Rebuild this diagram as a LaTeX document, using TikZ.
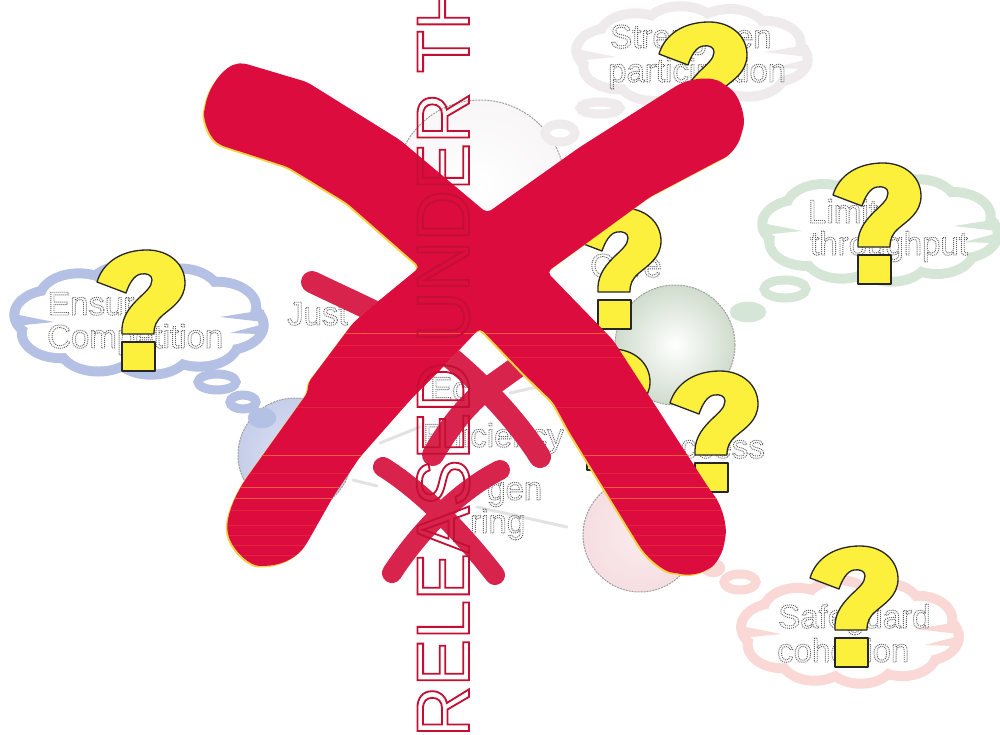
\documentclass[tikz,border=0pt]{standalone}
\usepackage{fontspec}
\setmainfont{Liberation Sans}
\newfontfamily\stampfont[FakeStretch=0.937]{Liberation Sans}
\usetikzlibrary{shadings}
\definecolor{xred}{HTML}{DC0C3E}
\definecolor{xredthin}{HTML}{D8244C}
\definecolor{xfringe}{HTML}{F8D246}
\definecolor{xscan}{HTML}{F25A3C}
\definecolor{stampred}{HTML}{CE1238}
\definecolor{qyellow}{HTML}{FDF03C}
\definecolor{cblue}{HTML}{B4C0E4}
\definecolor{cgrey}{HTML}{EFEBED}
\definecolor{cgreen}{HTML}{D6E6D6}
\definecolor{cpink}{HTML}{F9D8D6}
\definecolor{sblue}{HTML}{C6CEEA}
\definecolor{sgreen}{HTML}{CFDCCC}
\definecolor{spink}{HTML}{F6DEE2}
\definecolor{sgrey}{HTML}{F8F6F6}
\newcommand\ghosttext[1]{\special{pdf:code q 1 Tr 0.9 w [1 1] 0 d 0.36 0.36 0.36 RG}#1\special{pdf:code Q}}
\newcommand\stamptext[1]{\special{pdf:code q 1 Tr 1.8 w 0.76 0.06 0.2 RG}#1\special{pdf:code Q}}
% cloud outline from a ring of lobes: colour lobes first, white lobes on top, then folds
\newcommand\cloudlobes[5]{%
  \foreach \a in {0,36,...,324}{%
    \pgfmathsetmacro\lx{#1+(#3-0.30*#3-5)*cos(\a+10)}%
    \pgfmathsetmacro\ly{#2+(#4-0.42*#4-5)*sin(\a+10)}%
    \fill[#5] (\lx,\ly) ellipse [x radius=0.30*#3+5, y radius=0.42*#4+5];}%
  \foreach \a in {0,36,...,324}{%
    \pgfmathsetmacro\lx{#1+(#3-0.30*#3-5)*cos(\a+10)}%
    \pgfmathsetmacro\ly{#2+(#4-0.42*#4-5)*sin(\a+10)}%
    \fill[white] (\lx,\ly) ellipse [x radius=0.30*#3-5, y radius=0.42*#4-5];}%
  \fill[white] (#1,#2) ellipse [x radius=#3-22, y radius=#4-18];
  \fill[#5] (#1+#3-6,#2-10) -- (#1+#3-50,#2-3) -- (#1+#3-6,#2+2) -- cycle;
  \fill[#5] (#1+#3-6,#2+4) -- (#1+#3-40,#2+13) -- (#1+#3-12,#2+14) -- cycle;
  \fill[#5] (#1-#3+6,#2-6) -- (#1-#3+46,#2+2) -- (#1-#3+6,#2+6) -- cycle;}
\newcommand\bigxpath{(275,72.5) -- (307,82) -- (400,140) -- (487,213) -- (580,147) -- (673,88)
  .. controls (690,78) and (712,76) .. (725,85) .. controls (740,95) and (746,118) .. (742,132)
  .. controls (738,146) and (730,155) .. (720,160) -- (650,197) -- (547,272) -- (613,340)
  -- (710,490) .. controls (722,505) and (727,525) .. (725,540) .. controls (722,555) and (715,565) .. (707,570)
  .. controls (695,575) and (685,575) .. (677,573) .. controls (665,572) and (650,560) .. (640,547)
  -- (570,433) -- (553,402) -- (525,375) -- (480,328) -- (443,367) -- (413,397) -- (360,457) -- (333,497) -- (307,543)
  .. controls (298,556) and (285,564) .. (265,566) .. controls (250,566) and (235,552) .. (228,535)
  .. controls (226,515) and (236,495) .. (245,480) -- (308,392) -- (308,383) -- (353,323) -- (370,308) -- (420,267)
  -- (347,203) -- (288,167) -- (220,145) .. controls (208,135) and (203,118) .. (205,107)
  .. controls (210,85) and (225,65) .. (243,63) -- cycle}
\tikzset{
  qmark/.pic={
    \draw[qoutline] (0,32) .. controls (6,12) and (25,0) .. (50,0) .. controls (72,0) and (88,14) .. (88,33)
      .. controls (88,50) and (74,58) .. (66,65) .. controls (59,71) and (57,76) .. (57,84) -- (25,84)
      .. controls (24,70) and (30,60) .. (40,50) .. controls (48,42) and (55,37) .. (55,30)
      .. controls (55,25) and (50,23) .. (44,24) .. controls (37,25) and (32,34) .. (29,43) -- cycle;
    \draw[qoutline] (25,92) rectangle (58,121);
  },
  qoutline/.style={fill=qyellow,draw=black!85,line width=1.3pt,line join=round},
  lbl/.style={font=\fontsize{33}{35}\selectfont,inner sep=0pt,anchor=base west},
  ball/.style={draw=gray!75,dash pattern=on 2pt off 1pt,line width=1pt},
  ringb/.style={draw=#1,line width=9pt,fill=white},
  lobeb/.style={fill=#1,draw=#1},
  faint/.style={draw=gray!22,line width=3pt,line cap=round},
  thinx/.style={draw=xredthin,line width=22pt,line cap=round},
  stamp/.style={font=\stampfont\fontsize{75}{75}\selectfont,inner sep=0pt,rotate=90,anchor=base west,text=stampred},
}
\begin{document}
\begin{tikzpicture}[x=1pt,y=-1pt]
\clip (0,0) rectangle (1000,735);
\fill[white] (0,0) rectangle (1000,735);
% spheres
\shade[ball,inner color=white,outer color=sgrey] (480,185) circle[radius=85];
\shade[ball,inner color=white,outer color=sgreen] (675,345) circle[radius=60];
\shade[ball,inner color=sblue!60,outer color=sblue] (295,455) circle[radius=57];
\shade[ball,inner color=spink!60,outer color=spink] (640,535) circle[radius=57];
% faint connectors
\coordinate (l1a) at (380,443); \coordinate (l1b) at (420,427);
\coordinate (l2a) at (353,480); \coordinate (l2b) at (377,486);
\coordinate (l3a) at (510,393); \coordinate (l3b) at (537,387);
\coordinate (l4a) at (477,507); \coordinate (l4b) at (567,527);
\draw[faint] (l1a) -- (l1b);
\draw[faint] (l2a) -- (l2b);
\draw[faint] (l3a) -- (l3b);
\draw[faint] (l4a) -- (l4b);
% clouds
\cloudlobes{139}{320}{131}{60}{cblue}
\cloudlobes{692}{55}{122}{54}{cgrey}
\cloudlobes{880}{229}{124}{58}{cgreen}
\cloudlobes{850}{632}{115}{57}{cpink}
% thought bubbles
\draw[ringb=cblue] (217,382) ellipse[x radius=19,y radius=8];
\draw[ringb=cblue] (243,402) ellipse[x radius=13,y radius=7];
\fill[lobeb=cblue] (262,418) ellipse[x radius=14,y radius=10];
\draw[ringb=cgrey] (600,108) ellipse[x radius=20,y radius=6];
\draw[ringb=cgrey] (560,133) ellipse[x radius=15,y radius=9];
\draw[ringb=cgreen] (785,289) ellipse[x radius=21,y radius=9];
\fill[lobeb=cgreen] (748,312) ellipse[x radius=18,y radius=10];
\draw[ringb=cpink] (740,582) ellipse[x radius=16,y radius=8];
\fill[lobeb=cpink] (713,568) ellipse[x radius=12,y radius=9];
% labels
\node[lbl] (t1) at (48,315) {\ghosttext{Ensure}};
\node[lbl] (t2) at (47,348) {\ghosttext{Competition}};
\node[lbl] (t3) at (610,48) {\ghosttext{Strengthen}};
\node[lbl] (t4) at (608,82) {\ghosttext{participation}};
\node[lbl] (t5) at (808,223) {\ghosttext{Limit}};
\node[lbl] (t6) at (810,255) {\ghosttext{throughput}};
\node[lbl] (t7) at (778,628) {\ghosttext{Safeguard}};
\node[lbl] (t8) at (777,662) {\ghosttext{cohesion}};
\node[lbl] (t9) at (287,325) {\ghosttext{Just}};
\node[lbl] (t10) at (430,400) {\ghosttext{Eco}};
\node[lbl] (t11) at (423,447) {\ghosttext{Efficiency}};
\node[lbl] (t12) at (487,500) {\ghosttext{gen}};
\node[lbl] (t13) at (470,533) {\ghosttext{ring}};
\node[lbl,anchor=base east] (t14) at (765,458) {\ghosttext{Access}};
\node[lbl] (t15) at (590,277) {\ghosttext{Core}};
% question marks
\pic at (97,250) {qmark};
\pic at (659,22) {qmark};
\pic at (833,163) {qmark};
\pic at (573,208) {qmark};
\pic at (562,349) {qmark};
\pic at (670,371) {qmark};
\pic at (810,546) {qmark};
% smaller crosses
\draw[thinx] (312,282) .. controls (370,310) and (420,330) .. (458,364) .. controls (490,392) and (520,425) .. (540,457);
\draw[thinx] (433,455) .. controls (450,425) and (470,400) .. (495,383) -- (530,358);
\draw[thinx,line width=20pt] (383,467) .. controls (420,490) and (460,530) .. (495,575);
\draw[thinx,line width=20pt] (500,470) .. controls (460,490) and (420,530) .. (392,573);
% big cross
\begin{scope}[shift={(-1.5,1.5)}]
\fill[rounded corners=5pt,fill=xfringe] \bigxpath;
\end{scope}
\fill[rounded corners=5pt,fill=xred] \bigxpath;
\begin{scope}
\clip[rounded corners=5pt] \bigxpath;
\foreach \yy in {333,455,487,498}{
  \draw[xscan,line width=0.8pt] (200,\yy) -- (740,\yy);}
\foreach \yy in {345,357,407,473,510,525,535,545,555}{
  \draw[xscan,opacity=0.3,line width=0.8pt] (200,\yy) -- (740,\yy);}
\end{scope}
% stamp
\node[stamp] (stamp) at (469,737) {\stamptext{RELEASED UNDER TH}};
\end{tikzpicture}
\end{document}
